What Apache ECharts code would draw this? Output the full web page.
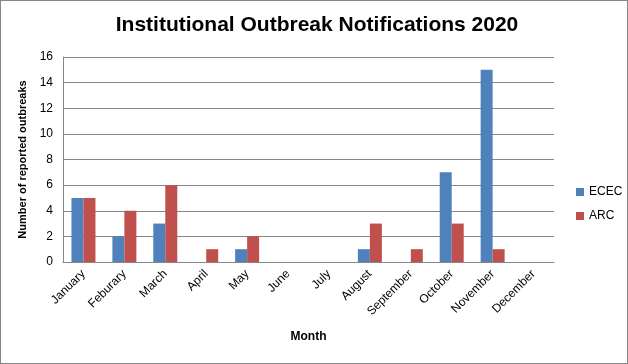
<!DOCTYPE html>
<html><head><meta charset="utf-8">
<script src="https://cdn.jsdelivr.net/npm/echarts@6/dist/echarts.min.js"></script>
<style>html,body{margin:0;padding:0;background:#fff}#c{width:628px;height:364px;box-sizing:border-box;border:1px solid #868686}</style>
</head><body><div id="c"></div>
<script>
const months = ["January","Feburary","March","April","May","June","July","August","September","October","November","December"];
const ecec = [5,2,3,0,1,0,0,1,0,7,15,0];
const arc = [5,4,6,1,2,0,0,3,1,3,1,0];
const yTicks = [0,2,4,6,8,10,12,14,16];
const chart = echarts.init(document.getElementById('c'));
const font = '"Liberation Sans", Arial, sans-serif';
chart.setOption({
  animation:false,
  title:{text:'Institutional Outbreak Notifications 2020',left:311,top:9,textAlign:'center',
    textStyle:{fontFamily:font,fontSize:21,fontWeight:'bold',color:'#000'}},
  legend:{orient:'vertical',left:575,top:185,padding:0,itemWidth:8,itemHeight:8,itemGap:12,icon:'rect',
    textStyle:{fontFamily:font,fontSize:12,color:'#000'},data:['ECEC','ARC']},
  grid:{left:62,right:73,top:56,bottom:101},
  xAxis:{type:'category',data:months,
    axisLine:{lineStyle:{color:'#868686'}},axisTick:{show:false},
    axisLabel:{rotate:45,interval:0,fontFamily:font,fontSize:12,color:'#000',margin:10},
    name:'Month',nameLocation:'middle',nameGap:69,
    nameTextStyle:{fontFamily:font,fontSize:12,fontWeight:'bold',color:'#000'}},
  yAxis:{type:'value',min:yTicks[0],max:yTicks[yTicks.length-1],interval:2,
    axisLine:{show:true,lineStyle:{color:'#868686'}},axisTick:{show:false},
    splitLine:{lineStyle:{color:'#868686'}},
    axisLabel:{fontFamily:font,fontSize:12,color:'#000',margin:10},
    name:'Number of reported outbreaks',nameLocation:'middle',nameGap:31,
    nameTextStyle:{fontFamily:font,fontSize:11,fontWeight:'bold',color:'#000'}},
  series:[
    {name:'ECEC',type:'bar',data:ecec,barWidth:12,barGap:'0%',itemStyle:{color:'#4F81BD'}},
    {name:'ARC',type:'bar',data:arc,barWidth:12,barGap:'0%',itemStyle:{color:'#C0504D'}}
  ]
});
</script></body></html>
